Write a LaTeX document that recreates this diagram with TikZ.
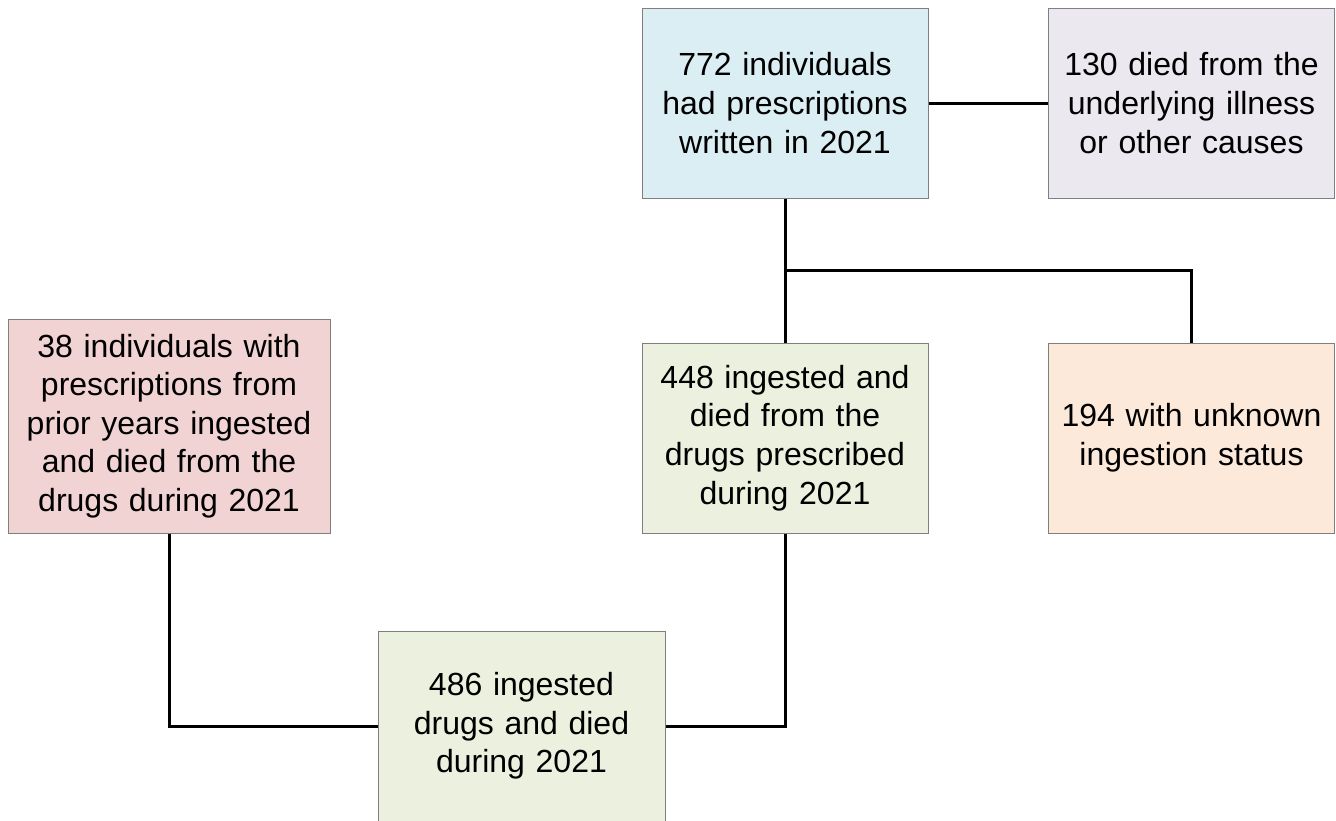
\documentclass[tikz,border=0pt]{standalone}
\usepackage{fontspec}
\setmainfont{Liberation Sans}
\usepackage{xcolor}
\usepackage{tikz}
\usetikzlibrary{positioning}

\definecolor{boxblue}{HTML}{DBEEF4}
\definecolor{boxlilac}{HTML}{EBE8EF}
\definecolor{boxrose}{HTML}{F0D3D2}
\definecolor{boxgreen}{HTML}{EBF1DE}
\definecolor{boxpeach}{HTML}{FCE9DA}
\definecolor{boxedge}{HTML}{7F7F7F}

\begin{document}
\begin{tikzpicture}[x=1pt, y=-1pt,
    flowbox/.style={draw=boxedge, line width=1pt, inner sep=0pt,
      minimum width=286pt, minimum height=190pt, text width=270pt,
      align=center, font=\fontsize{32}{38.6}\selectfont},
    link/.style={line width=3pt, black}]
  \useasboundingbox (0,0) rectangle (1336,820);
  % top row
  \node[flowbox, fill=boxblue] (written) at (785,103)
    {772 individuals\\had prescriptions\\written in 2021};
  \node[flowbox, fill=boxlilac] (otherdeath) at (1191.5,103)
    {130 died from the\\underlying illness\\or other causes};
  % middle row
  \node[flowbox, fill=boxgreen] (ingested) at (785,438)
    {448 ingested and\\died from the\\drugs prescribed\\during 2021};
  \node[flowbox, fill=boxpeach] (unknown) at (1191.5,438)
    {194 with unknown\\ingestion status};
  \node[flowbox, fill=boxrose, minimum width=322pt, minimum height=214pt,
    text width=316pt] (prior) at (169,426)
    {38 individuals with\\prescriptions from\\prior years ingested\\and died from the\\drugs during 2021};
  % bottom
  \node[flowbox, fill=boxgreen, minimum width=287pt] (total) at (521.5,726)
    {486 ingested\\drugs and died\\during 2021};

  % connectors
  \coordinate (split) at (785,270);
  \draw[link] (written) -- (otherdeath);
  \draw[link] (written.south) -- (ingested.north);
  \draw[link] (split) -| (unknown.north);
  \draw[link] (prior.south) |- (total.west);
  \draw[link] (ingested.south) |- (total.east);
\end{tikzpicture}
\end{document}
